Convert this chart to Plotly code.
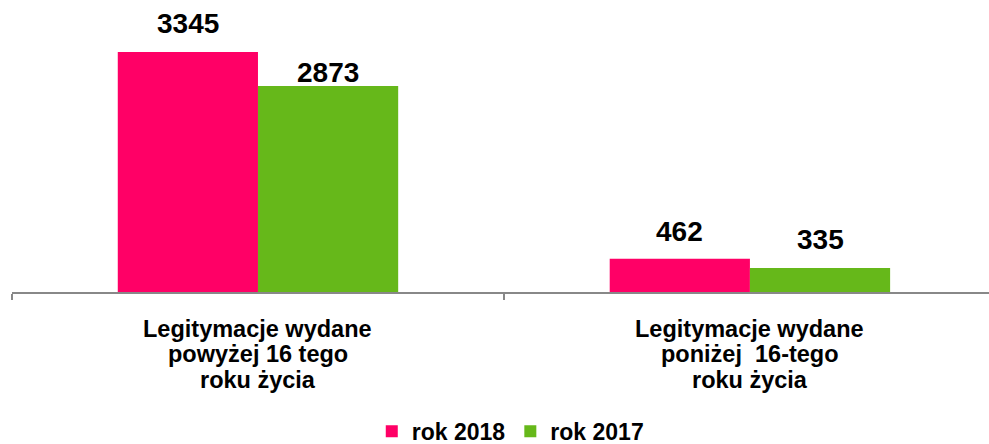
import plotly.graph_objects as go

categories = ["cat1", "cat2"]
category_lines = [["Legitymacje wydane", "powyżej 16 tego", "roku życia"],
                  ["Legitymacje wydane", "poniżej\u00a0 16-tego", "roku życia"]]
series_names = ["rok 2018", "rok 2017"]
values_2018 = [3345, 462]
values_2017 = [2873, 335]

colors = ["#FF0066", "#66B81A"]
label_shift = [[29, 27], [13.5, 28.5]]  # pixel offset of label centre above bar top
line_y = [-0.127, -0.213, -0.302]
FONT = "Liberation Sans, Arial"

fig = go.Figure()
for name, vals, col in zip(series_names, [values_2018, values_2017], colors):
    fig.add_trace(go.Bar(
        name=name, x=categories, y=vals, marker=dict(color=col, line=dict(width=0)),
    ))

bargap = 0.43
bw = (1 - bargap) / 2
annotations = []
for si, vals in enumerate([values_2018, values_2017]):
    off = -bw / 2 if si == 0 else bw / 2
    for ci, v in enumerate(vals):
        annotations.append(dict(
            x=ci + off, y=v, xref="x", yref="y", text=str(v), showarrow=False,
            yanchor="middle", xanchor="center", yshift=label_shift[si][ci],
            font=dict(family=FONT, size=28, color="black", weight="bold")))
for ci, lines in enumerate(category_lines):
    for li, t in enumerate(lines):
        annotations.append(dict(
            x=ci, y=line_y[li], xref="x", yref="paper", text=t, showarrow=False,
            yanchor="middle", xanchor="center",
            font=dict(family=FONT, size=23.5, color="black", weight="bold")))

fig.update_layout(
    width=989, height=444, barmode="group", bargap=bargap, bargroupgap=0,
    plot_bgcolor="white", paper_bgcolor="white",
    margin=dict(l=12, r=0, t=0, b=152, autoexpand=False),
    font=dict(family=FONT, color="black"),
    showlegend=True,
    annotations=annotations,
    legend=dict(orientation="h", x=0.51, xanchor="center", y=-0.551, yanchor="bottom",
                font=dict(size=23, weight="bold"), traceorder="normal"),
    xaxis=dict(type="category", range=[-0.5, 1.486], showline=True, linecolor="#888888", linewidth=1.5,
               ticks="outside", tickson="boundaries", ticklen=6, tickcolor="#888888", tickwidth=2,
               showticklabels=False, showgrid=False, automargin=False),
    yaxis=dict(range=[0, 4070], visible=False, showgrid=False),
)
fig.write_html("out.html", config={"displayModeBar": False},
               post_script="document.body.style.margin='0';")
